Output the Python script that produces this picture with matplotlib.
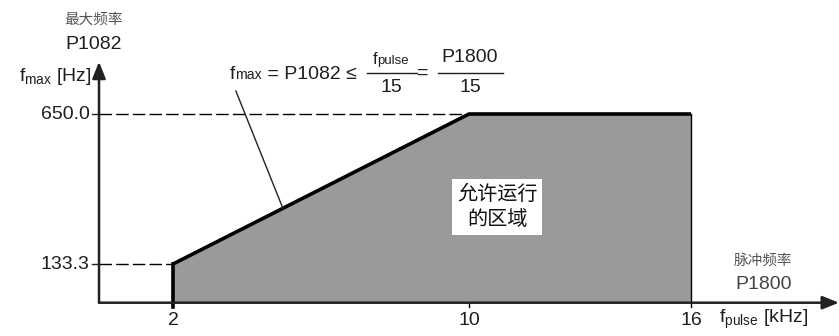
import matplotlib
matplotlib.use("Agg")
import matplotlib.pyplot as plt
from matplotlib.transforms import offset_copy

plt.rcParams['font.family'] = ['Liberation Sans', 'Noto Sans CJK SC', 'DejaVu Sans']
plt.rcParams['mathtext.fontset'] = 'custom'
plt.rcParams['mathtext.rm'] = 'Liberation Sans'
plt.rcParams['mathtext.it'] = 'Liberation Sans'

# Permissible operating region: pulse frequency (kHz) vs max output frequency (Hz)
f_pulse = [2, 10, 16]
f_max = [133.3, 650.0, 650.0]
x_ticks = [2, 10, 16]
x_tick_labels = ["2", "10", "16"]
y_ticks = [133.3, 650.0]
y_tick_labels = ["133.3", "650.0"]

FS = 14
TXT = '#1e1e1e'

fig = plt.figure(figsize=(8.39, 3.36), dpi=100)
ax = fig.add_axes([0, 0, 1, 1])
ax.set_xlim(-2.676, 20.0)
ax.set_ylim(-114.7, 1042.7)
ax.axis('off')
renderer = fig.canvas.get_renderer()

axis_col = '#222222'
# shaded region
ax.fill_between(f_pulse, 0, f_max, color='#9a9a9a', lw=0, zorder=1)
ax.plot(f_pulse, f_max, color='black', lw=2.6, solid_capstyle='butt', zorder=3)
ax.plot([f_pulse[0], f_pulse[0]], [-15, f_max[0]], color='black', lw=2.6, zorder=3)
ax.plot([f_pulse[-1], f_pulse[-1]], [-15, f_max[-1]], color='black', lw=1.0, zorder=3)
ax.plot([10, 10], [-15, 0], color='black', lw=1.0, zorder=3)

# dashed guides
ax.plot([0, f_pulse[1]], [f_max[1], f_max[1]], color='black', lw=1.0,
        linestyle=(0, (9, 3)), zorder=2)
ax.plot([0, f_pulse[0]], [f_max[0], f_max[0]], color='black', lw=1.0,
        linestyle=(0, (9, 3)), zorder=2)

# axes with arrows
ax.annotate('', xy=(20.0, 0), xytext=(0, 0),
            arrowprops=dict(arrowstyle='-|>,head_length=1.0,head_width=0.4',
                            color=axis_col, lw=1.8, shrinkA=0, shrinkB=0), zorder=4)
ax.annotate('', xy=(0, 830), xytext=(0, 0),
            arrowprops=dict(arrowstyle='-|>,head_length=1.0,head_width=0.4',
                            color=axis_col, lw=1.8, shrinkA=0, shrinkB=0), zorder=4)

# ticks and tick labels
for yv, lab in zip(y_ticks, y_tick_labels):
    ax.plot([-0.2, 0], [yv, yv], color=axis_col, lw=1.0)
    ax.text(-0.25, yv, lab, ha='right', va='center', fontsize=FS, color=TXT)
for xv, lab in zip(x_ticks, x_tick_labels):
    ax.text(xv, -60, lab, ha='center', va='center', fontsize=FS, color=TXT)

# axis titles
ax.text(-0.15, 975, "最大频率", ha='center', va='center', fontsize=10.5, color='#555555')
ax.text(-0.15, 890, "P1082", ha='center', va='center', fontsize=FS, color=TXT)
ax.text(-0.2, 780, r"f$_{\mathregular{max}}$ [Hz]", ha='right', va='center',
        fontsize=FS, color=TXT)
ax.text(17.95, 145, "脉冲频率", ha='center', va='center', fontsize=10.5, color='#555555')
ax.text(17.95, 62, "P1800", ha='center', va='center', fontsize=FS, color='#444444')
ax.text(17.95, -56, r"f$_{\mathregular{pulse}}$ [kHz]", ha='center', va='center',
        fontsize=FS, color=TXT)


def run_of_text(x, y, pieces, ha='left'):
    """Write (string, fontsize) pieces side by side on a shared baseline."""
    arts = []
    dx = 0.0
    for s, fs in pieces:
        tr = offset_copy(ax.transData, fig=fig, x=dx * 72 / fig.dpi, y=0, units='points')
        t = ax.text(x, y, s, fontsize=fs, color=TXT, ha='left', va='baseline', transform=tr)
        dx += t.get_window_extent(renderer).width
        arts.append(t)
    if ha == 'center':
        shift = -dx / 2
        for t in arts:
            t.set_transform(offset_copy(t.get_transform(), fig=fig,
                                        x=shift * 72 / fig.dpi, y=0, units='points'))
    return arts


# formula: fmax = P1082 <= fpulse/15 = P1800/15
run_of_text(3.54, 770, [("f", FS), ("max", FS * 0.72), (" = P1082 \u2264", FS)])
run_of_text(7.89, 822, [("f", FS * 0.85), ("pulse", FS * 0.68)], ha='center')
ax.plot([7.24, 8.59], [791, 791], color=TXT, lw=1.0)
ax.text(7.89, 743, "15", ha='center', va='center', fontsize=FS, color=TXT)
ax.text(8.76, 791, "=", ha='center', va='center', fontsize=FS, color=TXT)
ax.text(10.03, 843, "P1800", ha='center', va='center', fontsize=FS, color=TXT)
ax.plot([9.16, 10.92], [791, 791], color=TXT, lw=1.0)
ax.text(10.03, 743, "15", ha='center', va='center', fontsize=FS, color=TXT)

# leader line from the formula to the sloped boundary
ax.plot([3.70, 4.97], [729, 325], color='#222222', lw=1.0, zorder=3)

# region label
ax.text(10.76, 330, "允许运行\n的区域", ha='center', va='center', fontsize=14.5,
        family=['Noto Sans CJK SC', 'DejaVu Sans'], linespacing=1.25, color='#111111',
        bbox=dict(facecolor='white', edgecolor='none', pad=3.5), zorder=5)

fig.savefig("out.png", dpi=100)
